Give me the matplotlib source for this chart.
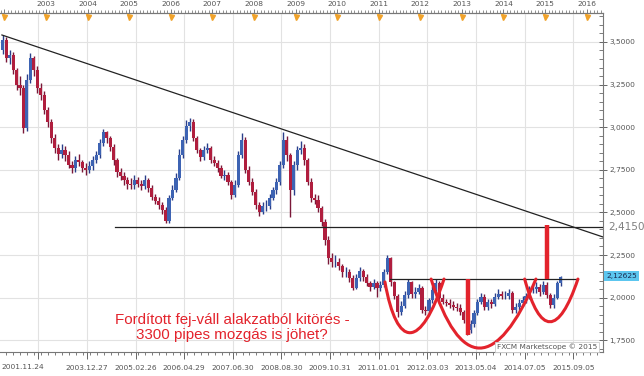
import datetime as dt
import matplotlib
matplotlib.use("Agg")
from matplotlib import pyplot as plt
from matplotlib.path import Path
from matplotlib.patches import PathPatch
from matplotlib.ticker import FixedLocator, MultipleLocator, FuncFormatter
import matplotlib.transforms as mtransforms


def decyear(s):
    d = dt.datetime.strptime(s, "%Y.%m.%d")
    start = dt.datetime(d.year, 1, 1)
    end = dt.datetime(d.year + 1, 1, 1)
    return d.year + (d - start).total_seconds() / (end - start).total_seconds()


# monthly bars, first one is December 2001
FIRST_MONTH = 2001 + 11 / 12
first_open = 3.45
close = [
    3.512, 3.406, 3.424, 3.336, 3.248, 3.230, 2.995, 3.277, 3.406, 3.336, 3.230, 3.189,
    3.101, 3.031, 2.937, 2.878, 2.843, 2.866, 2.837, 2.778, 2.761, 2.808, 2.796, 2.761,
    2.749, 2.772, 2.808, 2.837, 2.907, 2.972, 2.937, 2.884, 2.808, 2.737, 2.714, 2.690,
    2.667, 2.661, 2.690, 2.667, 2.655, 2.690, 2.643, 2.590, 2.567, 2.543, 2.514, 2.450,
    2.585, 2.631, 2.702, 2.837, 2.925, 3.007, 3.031, 2.937, 2.866, 2.825, 2.866, 2.878,
    2.808, 2.790, 2.761, 2.714, 2.720, 2.678, 2.602, 2.661, 2.837, 2.925, 2.749, 2.678,
    2.620, 2.543, 2.502, 2.538, 2.538, 2.585, 2.631, 2.678, 2.778, 2.925, 2.837, 2.631,
    2.778, 2.866, 2.878, 2.808, 2.678, 2.585, 2.573, 2.526, 2.444, 2.338, 2.232, 2.209,
    2.209, 2.185, 2.150, 2.150, 2.115, 2.056, 2.115, 2.156, 2.121, 2.086, 2.062, 2.086,
    2.056, 2.074, 2.150, 2.232, 2.092, 2.009, 1.915, 1.951, 2.015, 2.092, 2.021, 2.033,
    2.056, 1.927, 1.921, 1.986, 2.045, 2.086, 1.998, 1.974, 1.968, 1.957, 1.945, 1.939,
    1.915, 1.869, 1.810, 1.845, 1.910, 1.974, 2.004, 1.945, 1.974, 1.962, 2.004, 2.021,
    2.009, 2.009, 2.027, 1.927, 1.945, 1.968, 1.986, 2.009, 2.050, 2.050, 2.062, 2.033,
    2.074, 2.015, 1.957, 1.998, 2.086, 2.121,
]
high = [
    3.541, 3.53, 3.45, 3.44, 3.35, 3.30, 3.25, 3.31, 3.435, 3.42, 3.36, 3.26,
    3.21, 3.12, 3.05, 2.96, 2.90, 2.90, 2.89, 2.86, 2.80, 2.83, 2.84, 2.81,
    2.79, 2.80, 2.83, 2.86, 2.93, 2.99, 2.98, 2.95, 2.90, 2.82, 2.76, 2.74,
    2.71, 2.70, 2.72, 2.71, 2.69, 2.72, 2.70, 2.66, 2.61, 2.59, 2.56, 2.53,
    2.60, 2.66, 2.73, 2.87, 2.95, 3.042, 3.054, 3.05, 2.95, 2.88, 2.89, 2.91,
    2.89, 2.83, 2.81, 2.78, 2.75, 2.74, 2.69, 2.69, 2.86, 2.966, 2.94, 2.77,
    2.70, 2.64, 2.56, 2.56, 2.57, 2.61, 2.65, 2.70, 2.80, 2.972, 2.95, 2.85,
    2.80, 2.89, 2.92, 2.90, 2.82, 2.70, 2.61, 2.60, 2.54, 2.46, 2.36, 2.26,
    2.25, 2.23, 2.20, 2.18, 2.17, 2.13, 2.14, 2.18, 2.17, 2.14, 2.10, 2.11,
    2.10, 2.10, 2.17, 2.250, 2.24, 2.10, 2.02, 1.98, 2.04, 2.11, 2.10, 2.06,
    2.08, 2.07, 1.95, 2.00, 2.07, 2.11, 2.10, 2.02, 1.99, 1.99, 1.98, 1.97,
    1.96, 1.93, 1.88, 1.87, 1.93, 1.99, 2.03, 2.02, 1.99, 1.99, 2.03, 2.05,
    2.04, 2.04, 2.05, 2.04, 1.97, 1.99, 2.01, 2.03, 2.07, 2.08, 2.09, 2.08,
    2.10, 2.09, 2.03, 2.02, 2.10, 2.127,
]
low = [
    3.43, 3.38, 3.37, 3.31, 3.22, 3.19, 2.966, 2.98, 3.26, 3.30, 3.20, 3.16,
    3.08, 3.00, 2.91, 2.85, 2.81, 2.82, 2.80, 2.76, 2.73, 2.74, 2.77, 2.74,
    2.72, 2.73, 2.75, 2.79, 2.82, 2.89, 2.91, 2.86, 2.78, 2.71, 2.69, 2.66,
    2.64, 2.64, 2.64, 2.65, 2.63, 2.64, 2.62, 2.57, 2.55, 2.52, 2.49, 2.438,
    2.44, 2.57, 2.62, 2.69, 2.82, 2.91, 2.98, 2.92, 2.85, 2.80, 2.81, 2.85,
    2.79, 2.77, 2.74, 2.70, 2.69, 2.66, 2.58, 2.59, 2.65, 2.82, 2.73, 2.66,
    2.60, 2.52, 2.48, 2.49, 2.51, 2.52, 2.57, 2.61, 2.66, 2.76, 2.80, 2.473,
    2.60, 2.75, 2.84, 2.78, 2.66, 2.56, 2.55, 2.50, 2.42, 2.31, 2.20, 2.18,
    2.18, 2.16, 2.12, 2.12, 2.09, 2.045, 2.05, 2.10, 2.10, 2.07, 2.04, 2.05,
    2.004, 2.04, 2.06, 2.14, 2.07, 1.99, 1.886, 1.90, 1.94, 2.00, 2.00, 2.00,
    2.02, 1.91, 1.90, 1.91, 1.97, 2.03, 1.98, 1.96, 1.95, 1.94, 1.93, 1.92,
    1.90, 1.85, 1.780, 1.79, 1.83, 1.90, 1.96, 1.93, 1.93, 1.94, 1.95, 1.99,
    1.99, 1.99, 1.99, 1.91, 1.91, 1.93, 1.95, 1.97, 1.99, 2.03, 2.03, 2.01,
    2.02, 2.00, 1.94, 1.94, 1.99, 2.07,
]
assert len(close) == len(high) == len(low)

date_labels = ["2001.11.24", "2003.12.27", "2005.02.26", "2006.04.29", "2007.06.30",
               "2008.08.30", "2009.10.31", "2011.01.01", "2012.03.03", "2013.05.04",
               "2014.07.05", "2015.09.05"]
grid_dates = ["2002.10.26"] + date_labels[1:]
years = list(range(2002, 2017))
price_ticks = [1.75, 2.0, 2.25, 2.5, 2.75, 3.0, 3.25, 3.5]

trend_x = [2001.94, 2016.39]
trend_y = [3.541, 2.356]
support_level = 2.415
support_start = 2004.66
neck_level = 2.109
neck_x = [2011.27, 2015.79]
last_price = 2.12625

# U shapes drawn by hand on the chart: (year, price) bezier control points
left_shoulder = [(2011.15, 2.092), (2011.44, 1.692), (2012.01, 1.692), (2012.57, 2.109)]
head = [(2012.26, 2.109), (2012.95, 1.569), (2013.84, 1.569), (2014.78, 2.109)]
right_shoulder = [(2014.51, 2.109), (2014.88, 1.775), (2015.33, 1.775), (2015.79, 2.109)]
target_bars = [(2013.14, 2.109, 1.780), (2015.04, 2.109, 2.426)]

note = "Fordított fej-váll alakzatból kitörés -\n3300 pipes mozgás is jöhet?"

RED = "#e3232c"
GRID = "#e2e2e2"
TICKC = "#555555"

fig = plt.figure(figsize=(6.44, 3.76), dpi=100)
ax = fig.add_axes([0, 1 - 352 / 376, 603 / 644, 339 / 376])
ax.set_xlim(2001.894, 2016.393)
ax.set_ylim(1.681, 3.670)

# candles
xs = [FIRST_MONTH + (i + 0.5) / 12 for i in range(len(close))]
opens = [first_open] + close[:-1]
up = [c >= o for o, c in zip(opens, close)]
wick_col = ["#2a3f8a" if u else "#7a1838" for u in up]
body_col = ["#3d63b3" if u else "#b01e3e" for u in up]
ax.vlines(xs, low, high, colors=wick_col, lw=1.0, zorder=3)
ax.bar(xs, [c - o for o, c in zip(opens, close)], bottom=opens, width=0.075,
       color=body_col, linewidth=0, zorder=3)

# lines
ax.plot(trend_x, trend_y, color="#222222", lw=0.9, zorder=4)
ax.plot([support_start, 2016.393], [support_level] * 2, color="#222222", lw=0.9, zorder=4)
ax.plot(neck_x, [neck_level] * 2, color="#222222", lw=0.9, zorder=4)

# red shapes
codes = [Path.MOVETO, Path.CURVE4, Path.CURVE4, Path.CURVE4]
for pts in (left_shoulder, head, right_shoulder):
    ax.add_patch(PathPatch(Path(pts, codes), facecolor="none", edgecolor=RED,
                           lw=2.2, capstyle="round", zorder=5))
for bx, y0, y1 in target_bars:
    ax.plot([bx, bx], [y0, y1], color=RED, lw=3.2, solid_capstyle="butt", zorder=5)

ax.text(2007.47, 1.825, note, color=RED, fontsize=10.9, family="Liberation Sans",
        ha="center", va="center", linespacing=1.1, zorder=6)

ax.text(0.99, 0.016, "FXCM Marketscope © 2015", transform=ax.transAxes, ha="right",
        va="center", fontsize=5.3, color="#555555", zorder=6,
        bbox=dict(facecolor="white", edgecolor="#cccccc", pad=1.2, lw=0.6))

# grid + axes styling
grid_labels = {round(decyear(d), 4): d for d in date_labels[1:]}
ax.xaxis.set_major_locator(FixedLocator([decyear(d) for d in grid_dates]))
ax.xaxis.set_major_formatter(FuncFormatter(lambda v, p: grid_labels.get(round(v, 4), "")))
ax.xaxis.set_minor_locator(MultipleLocator(61 / 52.18 / 7))
ax.yaxis.set_major_locator(FixedLocator(price_ticks))
ax.yaxis.set_minor_locator(MultipleLocator(0.05))
ax.yaxis.set_major_formatter(FuncFormatter(lambda v, p: f"{v:.4f}".replace(".", ",")))
ax.yaxis.tick_right()
ax.grid(which="major", color=GRID, lw=0.8, zorder=0)
ax.set_axisbelow(True)

ax.spines["left"].set_visible(False)
for s in ("right", "bottom", "top"):
    ax.spines[s].set_color("#777777")
    ax.spines[s].set_linewidth(0.8)

ax.tick_params(axis="x", which="major", direction="out", length=5, width=0.7,
               color="#666666", labelsize=5.4, labelcolor=TICKC, pad=4)
ax.tick_params(axis="x", which="minor", direction="out", length=2.5, width=0.6, color="#666666")
ax.tick_params(axis="y", which="major", direction="inout", length=6, width=0.7,
               color="#666666", labelsize=5.4, labelcolor=TICKC, pad=1.5)
ax.tick_params(axis="y", which="minor", direction="in", length=3, width=0.6, color="#666666")
ax.text(0.002, -0.045, date_labels[0], transform=ax.transAxes, ha="left", va="center",
        fontsize=5.4, color=TICKC)

# top year axis
top = ax.secondary_xaxis("top")
top.set_xticks(years)
top.set_xticklabels(["" if y == 2002 else str(y) for y in years])
top.xaxis.set_minor_locator(MultipleLocator(1 / 12))
top.tick_params(which="major", direction="out", length=3, width=0.6, color="#666666",
                labelsize=5.4, labelcolor=TICKC, pad=1)
top.tick_params(which="minor", direction="out", length=2, width=0.5, color="#666666")
top.spines["top"].set_color("#777777")
top.spines["top"].set_linewidth(0.8)
blend = mtransforms.blended_transform_factory(ax.transData, ax.transAxes)
ax.plot(years, [0.988] * len(years), "v", color="#f0a22a", ms=3.6, transform=blend,
        clip_on=False, zorder=7)

# right-side price tags
ax.annotate(f"{support_level:.4f}".replace(".", ","), xy=(1, support_level),
            xycoords=("axes fraction", "data"), xytext=(4, 0), textcoords="offset points",
            ha="left", va="center", fontsize=7.6, color="#808080")
ax.annotate(f"{last_price:.5f}".replace(".", ","), xy=(1, last_price),
            xycoords=("axes fraction", "data"), xytext=(2.2, 0), textcoords="offset points",
            ha="left", va="center", fontsize=5.4, color="#1a2a50",
            bbox=dict(boxstyle="square,pad=0.25", facecolor="#5cc6ef", edgecolor="none"))

fig.savefig("out.png", dpi=100)
